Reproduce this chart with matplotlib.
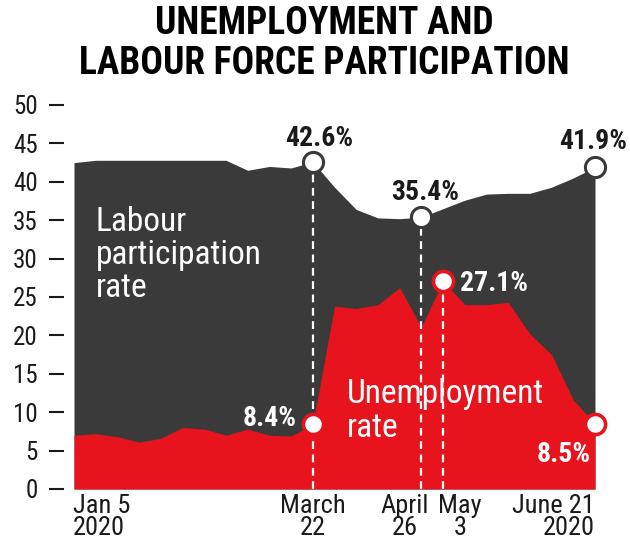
import numpy as np
import pandas as pd
import matplotlib
matplotlib.use("Agg")
import matplotlib.pyplot as plt
from matplotlib import font_manager as fm

# weekly data, week ending Jan 5 .. June 21 2020
weeks = pd.date_range("2020-01-05", "2020-06-21", freq="7D")
labour = [42.5, 42.8, 42.8, 42.8, 42.8, 42.8, 42.8, 42.8, 41.5, 42.0, 41.8, 42.6,
          39.3, 36.4, 35.3, 35.2, 35.4, 36.5, 37.6, 38.4, 38.5, 38.5, 39.3, 40.5, 41.9]
unemp = [7.0, 7.2, 6.8, 6.1, 6.6, 8.0, 7.8, 7.0, 7.8, 7.0, 6.9, 8.4,
         23.8, 23.5, 24.0, 26.2, 21.1, 27.1, 24.0, 24.0, 24.3, 20.2, 17.5, 11.6, 8.5]

labour_marks = ["2020-03-22", "2020-04-26", "2020-06-21"]
unemp_marks = ["2020-03-22", "2020-05-03", "2020-06-21"]
dashed_dates = ["2020-03-22", "2020-04-26", "2020-05-03"]

xlabels = ["Jan 5\n2020", "March\n22", "April\n26", "May\n3", "June 21\n2020"]
xlabel_dates = ["2020-01-05", "2020-03-22", "2020-04-26", "2020-05-03", "2020-06-21"]

names = {f.name for f in fm.fontManager.ttflist}
font = next((n for n in ["Roboto Condensed", "Liberation Sans Narrow", "Open Sans Condensed",
                         "Liberation Sans"] if n in names), "DejaVu Sans")
plt.rcParams["font.family"] = [font, "DejaVu Sans"]

DARK = "#3a3a3a"
RED = "#e8141d"
INK = "#1a1a1a"

s_lab = pd.Series(labour, index=weeks)
s_une = pd.Series(unemp, index=weeks)

fig = plt.figure(figsize=(6.3, 5.54), dpi=100)
ax = fig.add_axes([74 / 630, 1 - 489 / 554, 521 / 630, 384 / 554])

ax.fill_between(weeks, 0, labour, color=DARK, lw=0, zorder=1)
ax.fill_between(weeks, 0, unemp, color=RED, lw=0, zorder=2)

for d in dashed_dates:
    top = max(s_lab[d] if d in labour_marks else 0, s_une[d] if d in unemp_marks else 0)
    ax.vlines(pd.Timestamp(d), 0, top, colors="white", lw=1.6, linestyles=(0, (3.5, 2.5)), zorder=3)

for d in labour_marks:
    d = pd.Timestamp(d)
    ax.plot(d, s_lab[d], "o", ms=14.5, mfc="white", mec=DARK, mew=2.2, zorder=5, clip_on=False)
for d in unemp_marks:
    d = pd.Timestamp(d)
    ax.plot(d, s_une[d], "o", ms=14.5, mfc="white", mec=RED, mew=2.6, zorder=5, clip_on=False)

def label(d, v, dx, dy, color, ha="center"):
    ax.annotate(f"{v}%", xy=(pd.Timestamp(d), v), xytext=(dx, dy), textcoords="offset pixels",
                ha=ha, va="center", fontsize=20, fontweight="bold", color=color, zorder=6)

label("2020-03-22", 42.6, 6, 23, INK)
label("2020-04-26", 35.4, 4, 25, INK)
label("2020-06-21", 41.9, -2, 26, INK)
label("2020-05-03", 27.1, 17, -3, "white", ha="left")
label("2020-03-22", 8.4, -16, 6, "white", ha="right")
label("2020-06-21", 8.5, -4, -31, "white", ha="right")

ax.text(pd.Timestamp("2020-01-12"), 36.9, "Labour\nparticipation\nrate", color="white",
        fontsize=24, va="top", ha="left", linespacing=1.05, zorder=4)
ax.text(pd.Timestamp("2020-04-02"), 14.4, "Unemployment\nrate", color="white",
        fontsize=24, va="top", ha="left", linespacing=1.05, zorder=4)

# x labels
offsets = {"Jan 5\n2020": ("left", -1), "March\n22": ("center", 0), "April\n26": ("center", -17),
           "May\n3": ("center", 17), "June 21\n2020": ("right", 0)}
for lab, d in zip(xlabels, xlabel_dates):
    ha, dx = offsets[lab]
    ax.annotate(lab, xy=(pd.Timestamp(d), 0), xytext=(dx, -5), textcoords="offset pixels",
                ha=ha, va="top", fontsize=19, color=INK, linespacing=0.88,
                multialignment="center" if ha == "center" else ha, annotation_clip=False)

ax.set_xlim(weeks[0], weeks[-1])
ax.set_ylim(0, 50)
ax.set_yticks(range(0, 51, 5))
ax.set_xticks([])
for sp in ax.spines.values():
    sp.set_visible(False)
ax.spines["left"].set_position(("outward", 7))
ax.tick_params(axis="y", length=11, width=1.5, pad=8, labelsize=18, colors=INK)

fig.text(0.515, 1 - 23 / 554, "UNEMPLOYMENT AND", ha="center", va="center",
         fontsize=27, fontweight="black", color="black")
fig.text(0.515, 1 - 63 / 554, "LABOUR FORCE PARTICIPATION", ha="center", va="center",
         fontsize=27, fontweight="black", color="black")

fig.savefig("out.png", dpi=100, facecolor="white")
